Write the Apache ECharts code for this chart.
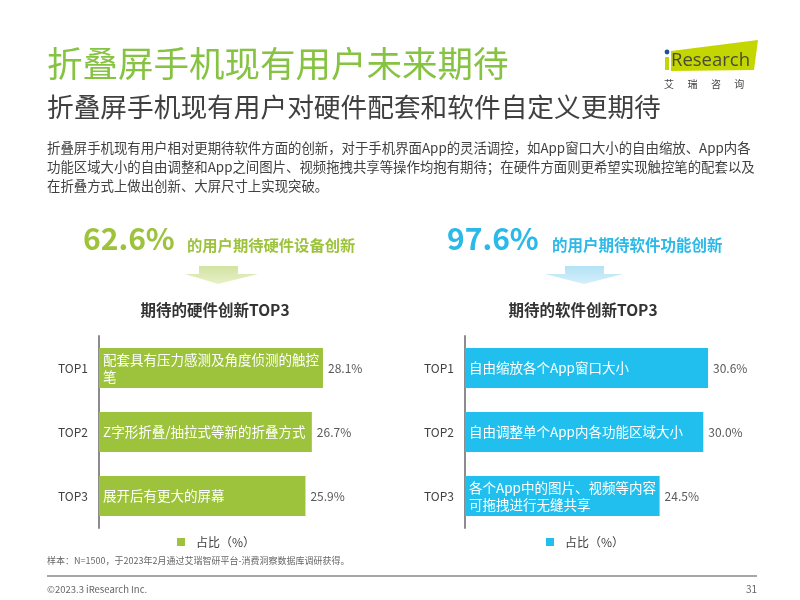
<!DOCTYPE html>
<html>
<head>
<meta charset="utf-8">
<script src="https://cdn.jsdelivr.net/npm/echarts@6/dist/echarts.min.js"></script>
<style>
html,body{margin:0;padding:0;background:#fff;}
#c{width:800px;height:600px;}
</style>
</head>
<body>
<div id="c"></div>
<script>
// ---- data ----
var rankLabels = ['TOP1', 'TOP2', 'TOP3'];
var hwItems = ['配套具有压力感测及角度侦测的触控\n笔', 'Z字形折叠/抽拉式等新的折叠方式', '展开后有更大的屏幕'];
var hwValues = [28.1, 26.7, 25.9];
var swItems = ['自由缩放各个App窗口大小', '自由调整单个App内各功能区域大小', '各个App中的图片、视频等内容\n可拖拽进行无缝共享'];
var swValues = [30.6, 30.0, 24.5];
var headlineValues = ['62.6%', '97.6%'];
var headlineTexts = ['的用户期待硬件设备创新', '的用户期待软件功能创新'];
var chartTitles = ['期待的硬件创新TOP3', '期待的软件创新TOP3'];
var legendName = '占比（%）';

var FONT = '"Noto Sans CJK SC", "Noto Sans", sans-serif';
var GREEN = '#9cc33b';
var BLUE = '#21bfee';

var chart = echarts.init(document.getElementById('c'), null, {renderer: 'canvas'});

function valueSeries(name, data, xi, yi) {
  return {
    name: name, type: 'bar', xAxisIndex: xi, yAxisIndex: yi,
    data: data, barWidth: 40, barGap: '-100%', silent: true,
    itemStyle: {color: 'rgba(0,0,0,0)'},
    label: {show: true, position: 'right', distance: 5, color: '#595959', fontSize: 12, fontFamily: FONT,
      formatter: function (p) { return p.value.toFixed(1) + '%'; }},
    z: 1
  };
}
function mainSeries(name, data, items, color, xi, yi) {
  return {
    name: name, type: 'bar', xAxisIndex: xi, yAxisIndex: yi,
    data: data, barWidth: 40, barGap: '-100%',
    itemStyle: {color: color},
    label: {show: true, position: 'insideLeft', distance: 4, color: '#fff', fontSize: 13.5, lineHeight: 17, fontFamily: FONT,
      formatter: function (p) { return items[p.dataIndex]; }},
    z: 2
  };
}
function catAxis(gi) {
  return {
    type: 'category', gridIndex: gi, data: rankLabels, inverse: true,
    axisLine: {show: true, lineStyle: {color: '#8c8c8c', width: 2}},
    axisTick: {show: false},
    axisLabel: {color: '#404040', fontSize: 12, margin: 11, fontFamily: FONT}
  };
}
function valAxis(gi) {
  return {type: 'value', gridIndex: gi, min: 0, max: 35, show: false, splitLine: {show: false}};
}

var graphics = [
  {type: 'text', left: 47, top: 46, style: {text: '折叠屏手机现有用户未来期待', fill: '#86c342', font: '35.5px ' + FONT}},
  {type: 'text', left: 47, top: 94, style: {text: '折叠屏手机现有用户对硬件配套和软件自定义更期待', fill: '#404040', font: '26.7px ' + FONT}},
  {type: 'text', left: 47, top: 138, style: {
    text: '折叠屏手机现有用户相对更期待软件方面的创新，对于手机界面App的灵活调控，如App窗口大小的自由缩放、App内各\n功能区域大小的自由调整和App之间图片、视频拖拽共享等操作均抱有期待；在硬件方面则更希望实现触控笔的配套以及\n在折叠方式上做出创新、大屏尺寸上实现突破。',
    fill: '#404040', font: '13.4px ' + FONT, lineHeight: 19}},
  // logo
  {type: 'polygon', shape: {points: [[671, 51], [758, 40], [754, 70], [671, 71]]}, style: {fill: '#c4d600'}},
  {type: 'circle', shape: {cx: 667, cy: 52, r: 2.4}, style: {fill: '#1f4e9c'}},
  {type: 'rect', shape: {x: 665, y: 57, width: 4, height: 13}, style: {fill: '#c4d600'}},
  {type: 'text', x: 671, y: 61, style: {text: 'Research', fill: '#4a4a3a', font: '18.5px "Open Sans", sans-serif', textVerticalAlign: 'middle'}},
  {type: 'text', x: 664, y: 84, style: {text: '艾      瑞      咨      询', fill: '#444', font: '10px ' + FONT, textVerticalAlign: 'middle'}},
  // headlines
  {type: 'text', x: 83, y: 239, style: {text: headlineValues[0], fill: GREEN, font: 'bold 30px ' + FONT, textVerticalAlign: 'middle'}},
  {type: 'text', x: 187, y: 245, style: {text: headlineTexts[0], fill: GREEN, font: 'bold 15.3px ' + FONT, textVerticalAlign: 'middle'}},
  {type: 'text', x: 447, y: 239, style: {text: headlineValues[1], fill: '#2ab9e8', font: 'bold 30px ' + FONT, textVerticalAlign: 'middle'}},
  {type: 'text', x: 552, y: 245, style: {text: headlineTexts[1], fill: '#2ab9e8', font: 'bold 15.5px ' + FONT, textVerticalAlign: 'middle'}},
  // arrows
  {type: 'polygon', shape: {points: [[199, 266], [238, 266], [238, 274], [258, 274], [218, 284], [185, 274], [199, 274]]},
    style: {fill: {type: 'linear', x: 0, y: 0, x2: 0, y2: 1, colorStops: [{offset: 0, color: '#d2e3a2'}, {offset: 1, color: '#e6f0c8'}]}}},
  {type: 'polygon', shape: {points: [[565, 266], [604, 266], [604, 274], [623, 274], [584, 284], [545, 274], [565, 274]]},
    style: {fill: {type: 'linear', x: 0, y: 0, x2: 0, y2: 1, colorStops: [{offset: 0, color: '#b4e2f5'}, {offset: 1, color: '#d4effa'}]}}},
  // chart titles
  {type: 'text', x: 215, y: 310, style: {text: chartTitles[0], fill: '#333', font: 'bold 15.5px ' + FONT, textAlign: 'center', textVerticalAlign: 'middle'}},
  {type: 'text', x: 583, y: 310, style: {text: chartTitles[1], fill: '#333', font: 'bold 15.5px ' + FONT, textAlign: 'center', textVerticalAlign: 'middle'}},
  // footer
  {type: 'text', x: 47, y: 561, style: {text: '样本：N=1500，于2023年2月通过艾瑞智研平台-消费洞察数据库调研获得。', fill: '#666', font: '9px ' + FONT, textVerticalAlign: 'middle'}},
  {type: 'line', shape: {x1: 47, y1: 576, x2: 757, y2: 576}, style: {stroke: '#a6a6a6', lineWidth: 2}},
  {type: 'text', x: 47, y: 589, style: {text: '©2023.3 iResearch Inc.', fill: '#666', font: '9.5px ' + FONT, textVerticalAlign: 'middle'}},
  {type: 'text', x: 757, y: 589, style: {text: '31', fill: '#666', font: '10px ' + FONT, textAlign: 'right', textVerticalAlign: 'middle'}}
];

var option = {
  backgroundColor: '#fff',
  animation: false,
  textStyle: {fontFamily: FONT},
  grid: [
    {left: 99, top: 336, width: 279, height: 192},
    {left: 465, top: 336, width: 278, height: 192}
  ],
  xAxis: [valAxis(0), valAxis(1)],
  yAxis: [catAxis(0), catAxis(1)],
  legend: [
    {data: ['hw'], left: 172, top: 531, icon: 'rect', itemWidth: 8, itemHeight: 8,
      formatter: function () { return legendName; },
      textStyle: {color: '#404040', fontSize: 12, padding: [0, 0, 0, 6]}},
    {data: ['sw'], left: 541, top: 531, icon: 'rect', itemWidth: 8, itemHeight: 8,
      formatter: function () { return legendName; },
      textStyle: {color: '#404040', fontSize: 12, padding: [0, 0, 0, 6]}}
  ],
  series: [
    valueSeries('hwv', hwValues, 0, 0),
    mainSeries('hw', hwValues, hwItems, GREEN, 0, 0),
    valueSeries('swv', swValues, 1, 1),
    mainSeries('sw', swValues, swItems, BLUE, 1, 1)
  ],
  graphic: graphics
};
chart.setOption(option);
</script>
</body>
</html>
